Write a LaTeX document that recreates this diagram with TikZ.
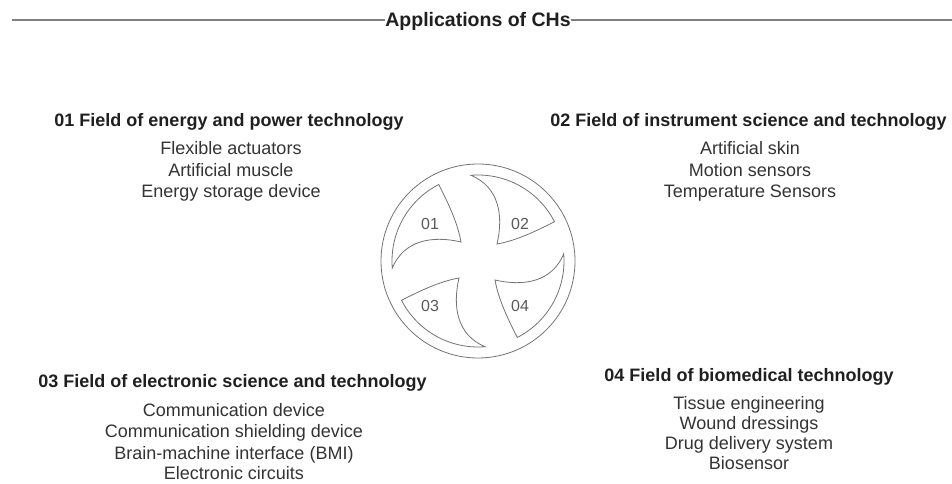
\documentclass[tikz,border=0pt]{standalone}
\usepackage{fontspec}
\setmainfont{Liberation Sans}
\usetikzlibrary{calc}
\begin{document}
\begin{tikzpicture}[x=1pt,y=1pt,
  titletext/.style={font=\fontsize{19.5}{22}\selectfont\bfseries, text=black!88, inner sep=0pt, anchor=base},
  head/.style={font=\fontsize{18}{21}\selectfont\bfseries, text=black!88, inner sep=0pt, anchor=base},
  item/.style={font=\fontsize{18}{21}\selectfont, text=black!80, inner sep=0pt, anchor=base},
  rule/.style={draw=black!50, line width=1.2pt},
  outline/.style={draw=black!55, line width=0.8pt},
  num/.style={font=\fontsize{16}{18}\selectfont, text=black!65, inner sep=0pt}]
\useasboundingbox (0,0) rectangle (952,484);

% heading with the horizontal rule on both sides
\node[titletext] (title) at (478,457) {Applications of CHs};
\coordinate (ruleL) at (12,464);
\coordinate (ruleR) at (952,464);
\draw[rule] (ruleL) -- (ruleL -| title.west);
\draw[rule] (ruleR) -- (ruleR -| title.east);

% pinwheel: outer ring and four scooped blades
\node[circle, outline, minimum size=194pt, inner sep=0pt] (wheel) at (478,223) {};
\foreach \ang in {0,-90,90,180}{
  \begin{scope}[shift={(wheel.center)}, rotate=\ang]
    \draw[outline, line join=miter]
      (117.2:86) arc[start angle=117.2, end angle=184.7, radius=86]
      .. controls (-74.2,20.6) and (-46.2,25.8) .. (-17,19)
      .. controls (-20.5,38.7) and (-30,58.2) .. (117.2:86) -- cycle;
  \end{scope}
}
\node[num] (n01) at ($(wheel.center)+(-48,37)$) {01};
\node[num] (n02) at ($(wheel.center)+(42,37)$) {02};
\node[num] (n03) at ($(wheel.center)+(-48,-45)$) {03};
\node[num] (n04) at ($(wheel.center)+(42,-45)$) {04};

% 01
\node[head] (h1) at (229,357) {01 Field of energy and power technology};
\node[item] (a1) at (231,329) {Flexible actuators};
\node[item] (a2) at (231,307) {Artificial muscle};
\node[item] (a3) at (231,286) {Energy storage device};

% 02
\node[head] (h2) at (748.5,357) {02 Field of instrument science and technology};
\node[item] (b1) at (750,329) {Artificial skin};
\node[item] (b2) at (750,307) {Motion sensors};
\node[item] (b3) at (750,286) {Temperature Sensors};

% 03
\node[head] (h3) at (232.5,96) {03 Field of electronic science and technology};
\node[item] (c1) at (234,67) {Communication device};
\node[item] (c2) at (234,46) {Communication shielding device};
\node[item] (c3) at (234,24) {Brain-machine interface (BMI)};
\node[item] (c4) at (234,4) {Electronic circuits};

% 04
\node[head] (h4) at (749,102) {04 Field of biomedical technology};
\node[item] (d1) at (749,74) {Tissue engineering};
\node[item] (d2) at (749,54) {Wound dressings};
\node[item] (d3) at (749,34) {Drug delivery system};
\node[item] (d4) at (749,14) {Biosensor};
\end{tikzpicture}
\end{document}
